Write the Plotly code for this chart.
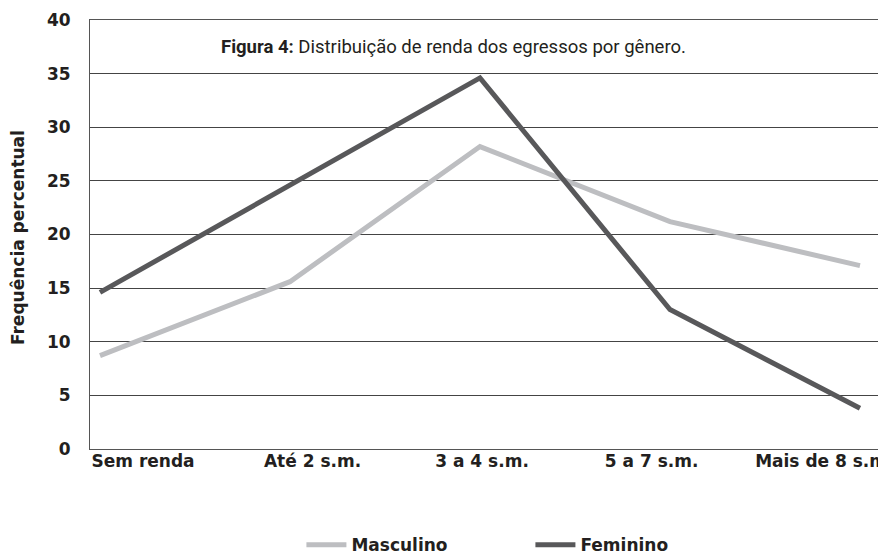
import plotly.graph_objects as go

# dados
categorias = ["Sem renda", "Até 2 s.m.", "3 a 4 s.m.", "5 a 7 s.m.", "Mais de 8 s.m"]
masculino = [8.7, 15.6, 28.2, 21.2, 17.1]
feminino = [14.6, 24.6, 34.6, 13.0, 3.8]
y_ticks = [0, 5, 10, 15, 20, 25, 30, 35, 40]

COR_MASC = "#bdbec1"
COR_FEM = "#58585a"
COR_TEXTO = "#231f20"
FONTE = "DejaVu Sans"

idx = list(range(len(categorias)))

fig = go.Figure()
fig.add_trace(go.Scatter(x=idx, y=masculino, mode="lines", name="<b>Masculino</b>",
                         line=dict(color=COR_MASC, width=5)))
fig.add_trace(go.Scatter(x=idx, y=feminino, mode="lines", name="<b>Feminino</b>",
                         line=dict(color=COR_FEM, width=5)))
# eixo auxiliar só para os rótulos das categorias (ficam deslocados no original)
fig.add_trace(go.Scatter(x=idx, y=masculino, xaxis="x2", mode="lines", opacity=0,
                         showlegend=False, hoverinfo="skip"))

fig.add_annotation(
    text="<b>Figura 4:</b> Distribuição de renda dos egressos por gênero.",
    xref="paper", yref="paper", x=0.4567, y=0.937, showarrow=False,
    xanchor="center", yanchor="middle",
    font=dict(family="Liberation Sans Narrow, Roboto", size=18.5, color=COR_TEXTO),
)
# título do eixo y
fig.add_annotation(
    text="<b>Frequência percentual</b>", textangle=-90,
    xref="paper", yref="paper", x=-0.0905, y=0.494, showarrow=False,
    xanchor="center", yanchor="middle",
    font=dict(family=FONTE, size=17, color=COR_TEXTO),
)

fig.update_layout(
    width=886, height=556,
    margin=dict(l=82, r=8, t=12, b=115, autoexpand=False),
    paper_bgcolor="white", plot_bgcolor="white",
    font=dict(family=FONTE, color=COR_TEXTO),
    xaxis=dict(range=[-0.0526, 4.137], showticklabels=False, showgrid=False,
               zeroline=False, showline=True, linecolor="#555", linewidth=1,
               mirror=True, automargin=False),
    xaxis2=dict(overlaying="x", side="bottom", range=[-0.3127, 4.383],
                tickvals=idx, ticktext=[f"<b>{c}</b>" for c in categorias],
                tickfont=dict(size=17, color=COR_TEXTO), showgrid=False,
                zeroline=False, showline=False, ticks="", ticklen=0,
                automargin=False, ticklabeloverflow="allow"),
    yaxis=dict(range=[0, 40], tickvals=y_ticks,
               ticktext=[f"<b>{v}</b>" for v in y_ticks],
               tickfont=dict(size=17, color=COR_TEXTO),
               showgrid=True, gridcolor="#444", gridwidth=1,
               zeroline=False, showline=True, linecolor="#555", linewidth=1,
               mirror=True, ticks="outside", ticklen=15, tickcolor="white",
               automargin=False),
    legend=dict(orientation="h", x=0.2656, y=-0.224, xanchor="left",
                yanchor="middle", font=dict(size=17, color=COR_TEXTO),
                itemwidth=40, entrywidth=174, tracegroupgap=0),
    showlegend=True,
)

fig.write_html("out.html")
